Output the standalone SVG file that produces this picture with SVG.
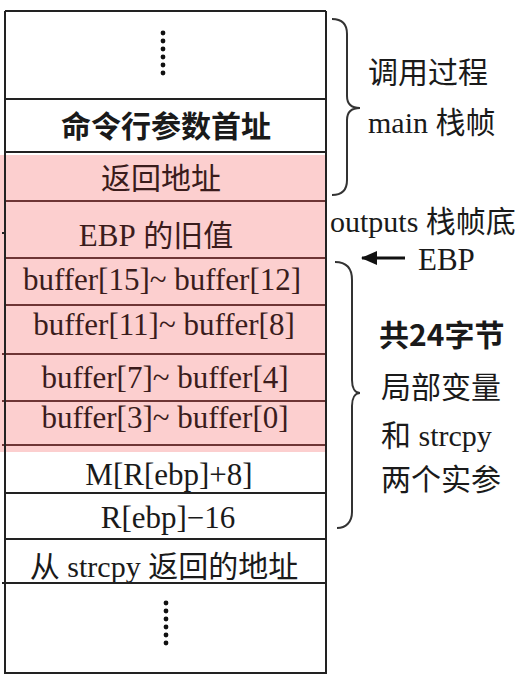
<svg xmlns="http://www.w3.org/2000/svg" width="525" height="678" viewBox="0 0 525 678">
<style>
.t{font-family:"Liberation Serif","Noto Sans CJK SC",serif;font-size:30px;fill:#1a1a1a}
.l{font-size:31px}
.tp{fill:#3a1c1c}
.c{text-anchor:middle}
.b{font-family:"Noto Sans CJK SC","Liberation Sans",sans-serif;font-weight:bold}
.ln{stroke:#222;stroke-width:2;fill:none}
.lp{stroke:#6e3535;stroke-width:2;fill:none}
.br{stroke:#333;stroke-width:2;fill:none}
.dot{fill:#111}
</style>
<defs>
<marker id="ah" markerUnits="userSpaceOnUse" markerWidth="16" markerHeight="14" refX="15" refY="7" orient="auto">
<path d="M0,0 L16,7 L0,14 z" fill="#111"/>
</marker>
</defs>
<rect x="0" y="155" width="326" height="297" fill="#fccfcf"/>
<g id="row-top">
<circle class="dot" cx="163" cy="33" r="2.4"/><circle class="dot" cx="163" cy="41" r="2.4"/><circle class="dot" cx="163" cy="49" r="2.4"/><circle class="dot" cx="163" cy="57" r="2.4"/><circle class="dot" cx="163" cy="65" r="2.4"/><circle class="dot" cx="163" cy="73" r="2.4"/>
</g>
<g id="row-args"><text class="t c" x="166" y="137" font-weight="bold">命令行参数首址</text></g>
<g id="row-ret"><text class="t tp c" x="161" y="189">返回地址</text></g>
<g id="row-ebp"><text class="t tp c" x="156" y="246"><tspan class="l">EBP</tspan> 的旧值</text></g>
<g id="row-b15"><text class="t l tp c" x="162" y="290">buffer[15]~ buffer[12]</text></g>
<g id="row-b11"><text class="t l tp c" x="164" y="335">buffer[11]~ buffer[8]</text></g>
<g id="row-b7"><text class="t l tp c" x="165" y="388">buffer[7]~ buffer[4]</text></g>
<g id="row-b3"><text class="t l tp c" x="165" y="428">buffer[3]~ buffer[0]</text></g>
<g id="row-m"><text class="t l c" x="169" y="485">M[R[ebp]+8]</text></g>
<g id="row-r"><text class="t l c" x="168" y="528">R[ebp]−16</text></g>
<g id="row-sret"><text class="t c" x="164" y="577">从 strcpy 返回的地址</text></g>
<g id="row-bottom">
<circle class="dot" cx="166" cy="603" r="2.4"/><circle class="dot" cx="166" cy="611" r="2.4"/><circle class="dot" cx="166" cy="619" r="2.4"/><circle class="dot" cx="166" cy="627" r="2.4"/><circle class="dot" cx="166" cy="635" r="2.4"/><circle class="dot" cx="166" cy="643" r="2.4"/>
</g>
<g id="grid">
<path class="ln" d="M5,11 H326 M5,99 H326 M5,152 H326 M5,539 H326 M2,583 H326 M5,493 H326"/>
<path class="lp" d="M5,201 H326 M5,258 H326 M5,305 H326 M2,354 H326 M2,401 H326 M2,445 H326"/>
<path class="ln" d="M5,11 V673 H326 V11"/>
<path class="ln" d="M2,233 H5" stroke-width="1.5"/>
</g>
<g id="label-main">
<text class="t" x="368" y="83">调用过程</text>
<text class="t" x="368" y="133">main 栈帧</text>
</g>
<g id="label-outputs"><text class="t" x="330" y="232">outputs 栈帧底</text></g>
<g id="label-ebp"><text class="t l" x="418" y="270">EBP</text></g>
<g id="label-locals">
<text class="t b" x="379" y="346">共24字节</text>
<text class="t" x="381" y="398">局部变量</text>
<text class="t" x="381" y="446">和 strcpy</text>
<text class="t" x="381" y="490">两个实参</text>
</g>
<g id="connectors">
<path class="br" d="M332,19 C342,19 347,24 347,34 L347,96 C347,104 352,108 360,108 C352,108 347,112 347,120 L347,180 C347,190 342,195 332,195"/>
<path class="br" d="M335,262 C346,262 352,268 352,280 L352,380 C352,388 355,393 360,393 C355,393 352,398 352,406 L352,512 C352,522 346,528 337,528"/>
<line x1="405" y1="258" x2="362" y2="258" stroke="#111" stroke-width="3" marker-end="url(#ah)"/>
</g>
</svg>
